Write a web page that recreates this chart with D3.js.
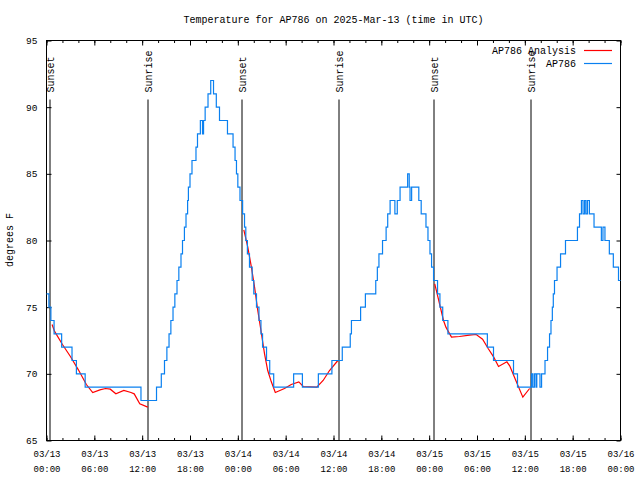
<!DOCTYPE html>
<html>
<head>
<meta charset="utf-8">
<script src="https://cdn.jsdelivr.net/npm/d3@7"></script>
<style>
  body { margin: 0; background: #fff; }
  text { font-family: "Liberation Mono", "DejaVu Sans Mono", monospace; fill: #000; }
</style>
</head>
<body>
<div class="draw"></div>
<script>
// hours after 2025-03-13 00:00 UTC
const obsHours = [0, 0.3, 0.55, 0.95, 1.9, 3.2, 3.75, 4.85, 11.85, 13.8, 14.4, 14.8, 15.1, 15.37, 15.6, 15.87, 16.1, 16.37, 16.6, 16.87, 17.06, 17.3, 17.5, 17.7, 17.8, 18.0, 18.25, 18.75, 18.94, 19.3, 19.57, 19.7, 19.9, 20.26, 20.6, 20.95, 21.3, 21.7, 22.7, 23.4, 23.65, 23.83, 24.0, 24.27, 24.6, 24.84, 25.0, 25.2, 25.46, 25.8, 26.0, 26.34, 26.65, 26.9, 27.1, 27.6, 28.0, 28.5, 31.0, 32.1, 34.1, 35.8, 37.1, 38.1, 38.25, 39.4, 40.0, 41.3, 41.5, 41.7, 42.15, 42.6, 42.8, 43.1, 43.7, 44.0, 44.35, 45.3, 45.5, 45.6, 45.8, 46.7, 47.0, 47.6, 47.85, 48.1, 48.3, 48.55, 49.05, 49.35, 49.7, 50.35, 55.3, 56.07, 58.58, 59.08, 60.84, 61.0, 61.2, 61.4, 61.5, 61.9, 62.1, 62.53, 62.85, 63.1, 63.28, 63.45, 63.57, 63.72, 64.04, 64.48, 65.1, 66.6, 66.86, 67.1, 67.3, 67.5, 67.67, 67.86, 68.1, 68.68, 69.6, 69.8, 70.05, 70.6, 71.1, 71.75, 72];
const obsTemps = [76, 75, 74, 73, 72, 71, 70, 69, 68, 69, 70, 71, 72, 73, 74, 75, 76, 77, 78, 79, 80, 81, 82, 83, 84, 85, 86, 87, 88, 89, 88, 89, 90, 91, 92, 91, 90, 89, 88, 87, 86, 85, 84, 83, 82, 81, 80, 79, 78, 77, 76, 75, 74, 73, 72, 71, 70, 69, 70, 69, 70, 71, 72, 73, 74, 75, 76, 77, 78, 79, 80, 81, 82, 83, 82, 83, 84, 85, 84, 83, 84, 83, 82, 81, 80, 79, 78, 77, 76, 75, 74, 73, 72, 71, 70, 69, 70, 69, 70, 69, 70, 69, 70, 71, 72, 73, 74, 75, 76, 77, 78, 79, 80, 81, 82, 83, 82, 83, 82, 83, 82, 81, 80, 81, 80, 79, 78, 77, 77];

// analysis, null = gap between nights
const anaHours = [0.7, 1, 2, 3, 4, 5, 5.8, 6.7, 7.4, 8, 8.7, 9.7, 10.6, 11, 11.7, 12.7, 18,
  24.75, 25.25, 25.7, 26.1, 26.5, 26.9, 27.35, 27.75, 28.2, 28.7, 29.85, 30.7, 31.65, 32.2, 33.9, 34.7, 35.5, 36.55, 42,
  48.7, 49.1, 49.5, 49.8, 50.1, 50.8, 51.8, 53.05, 53.9, 54.7, 55.4, 56.1, 56.7, 57.75, 58.1, 58.7, 59.75, 60.6];
const anaTemps = [73.7, 73.2, 72.2, 71.3, 70.3, 69.2, 68.6, 68.8, 68.9, 68.85, 68.5, 68.75, 68.6, 68.5, 67.75, 67.5, null,
  80.8, 79.5, 78.0, 76.5, 74.75, 73.25, 71.5, 70.25, 69.4, 68.6, 68.9, 69.2, 69.4, 69.05, 69.0, 69.5, 70.25, 71.0, null,
  76.75, 75.75, 74.75, 74.0, 73.5, 72.75, 72.8, 72.9, 72.95, 72.6, 71.9, 71.25, 70.55, 70.9, 70.6, 69.75, 68.25, 68.9];

const sunHours = [0.32, 12.64, 24.47, 36.6, 48.5, 60.65];
const sunLabels = ["Sunset", "Sunrise", "Sunset", "Sunrise", "Sunset", "Sunrise"];
const yTicks = [65, 70, 75, 80, 85, 90, 95];

const t0 = Date.UTC(2025, 2, 13);
const toDate = h => new Date(t0 + h * 3600000);

const W = 640, H = 480;
const margin = { top: 40, right: 19.5, bottom: 40, left: 46.5 };
const gw = W - margin.left - margin.right;
const gh = H - margin.top - margin.bottom;

const svg = d3.select(".draw").append("svg").attr("width", W).attr("height", H);
const graph = svg.append("g").attr("transform", `translate(${margin.left}, ${margin.top + 0.5})`);

const x = d3.scaleUtc().domain([toDate(0), toDate(72)]).range([0, gw]);
const y = d3.scaleLinear().domain([65, 95]).range([gh, 0]);

const majorT = d3.range(0, 73, 6).map(toDate);
const minorT = d3.range(0, 73, 2).map(toDate);
const fmtDay = d3.utcFormat("%m/%d"), fmtHr = d3.utcFormat("%H:%M");

// minor ticks, top and bottom
graph.append("g").attr("transform", `translate(0,${gh})`)
  .call(d3.axisBottom(x).tickValues(minorT).tickSize(-2.5).tickFormat(""));
graph.append("g")
  .call(d3.axisTop(x).tickValues(minorT).tickSize(-2.5).tickFormat(""));

// major ticks + labels
const xAxisGroup = graph.append("g").attr("transform", `translate(0,${gh})`)
  .call(d3.axisBottom(x).tickValues(majorT).tickSize(-5).tickFormat(""));
xAxisGroup.selectAll(".tick").append("text")
  .attr("y", 16).attr("text-anchor", "middle").style("font-size", "9px")
  .each(function(d) {
    const t = d3.select(this);
    t.append("tspan").attr("x", 0).text(fmtDay(d));
    t.append("tspan").attr("x", 0).attr("dy", 15).text(fmtHr(d));
  });
graph.append("g").call(d3.axisTop(x).tickValues(majorT).tickSize(-5).tickFormat(""));

const yAxisGroup = graph.append("g")
  .call(d3.axisLeft(y).tickValues(yTicks).tickSize(-5).tickPadding(9).tickFormat(d => d));
yAxisGroup.selectAll("text").style("font-size", "9.5px").attr("fill", "#000");
graph.append("g").attr("transform", `translate(${gw},0)`)
  .call(d3.axisRight(y).tickValues(yTicks).tickSize(-4).tickFormat(""));

graph.selectAll(".domain").remove();
graph.selectAll(".tick line").attr("stroke", "#000");

// sunrise / sunset markers
sunHours.forEach((h, i) => {
  const sx = Math.round(x(toDate(h))) + 0.5;
  graph.append("line")
    .attr("x1", sx).attr("x2", sx).attr("y1", 59).attr("y2", gh)
    .attr("stroke", "#000").attr("stroke-width", 1);
  graph.append("text")
    .attr("transform", `translate(${sx + 4}, 52) rotate(-90)`)
    .style("font-size", "10px")
    .text(sunLabels[i]);
});

// frame
graph.append("rect").attr("x", 0).attr("y", 0).attr("width", gw).attr("height", gh)
  .attr("fill", "none").attr("stroke", "#000");

const anaData = anaHours.map((h, i) => ({ t: toDate(h), v: anaTemps[i] }));
const obsData = obsHours.map((h, i) => ({ t: toDate(h), v: obsTemps[i] }));

const anaLine = d3.line().defined(d => d.v != null).x(d => x(d.t)).y(d => y(d.v));
const obsLine = d3.line().curve(d3.curveStepAfter).x(d => x(d.t)).y(d => y(d.v));

graph.append("path").datum(anaData)
  .attr("fill", "none").attr("stroke", "#ff0000").attr("stroke-width", 1.2).attr("d", anaLine);
graph.append("path").datum(obsData)
  .attr("fill", "none").attr("stroke", "#0a80f0").attr("stroke-width", 1.2).attr("d", obsLine);

// legend
const legend = [["AP786 Analysis", "#ff0000"], ["AP786", "#0a80f0"]];
legend.forEach((l, i) => {
  const ly = 10 + i * 13;
  graph.append("text").attr("x", 576 - margin.left).attr("y", ly).attr("dy", "0.35em")
    .attr("text-anchor", "end").style("font-size", "10px").text(l[0]);
  graph.append("line").attr("x1", 584 - margin.left).attr("x2", 612 - margin.left)
    .attr("y1", ly).attr("y2", ly).attr("stroke", l[1]).attr("stroke-width", 1.2);
});

// title, y label
svg.append("text").attr("x", margin.left + gw / 2).attr("y", 19).attr("dy", "0.35em")
  .attr("text-anchor", "middle").style("font-size", "10px")
  .text("Temperature for AP786 on 2025-Mar-13 (time in UTC)");
svg.append("text").attr("transform", `translate(13, ${margin.top + gh / 2}) rotate(-90)`)
  .attr("text-anchor", "middle").style("font-size", "10px").text("degrees F");
</script>
</body>
</html>
